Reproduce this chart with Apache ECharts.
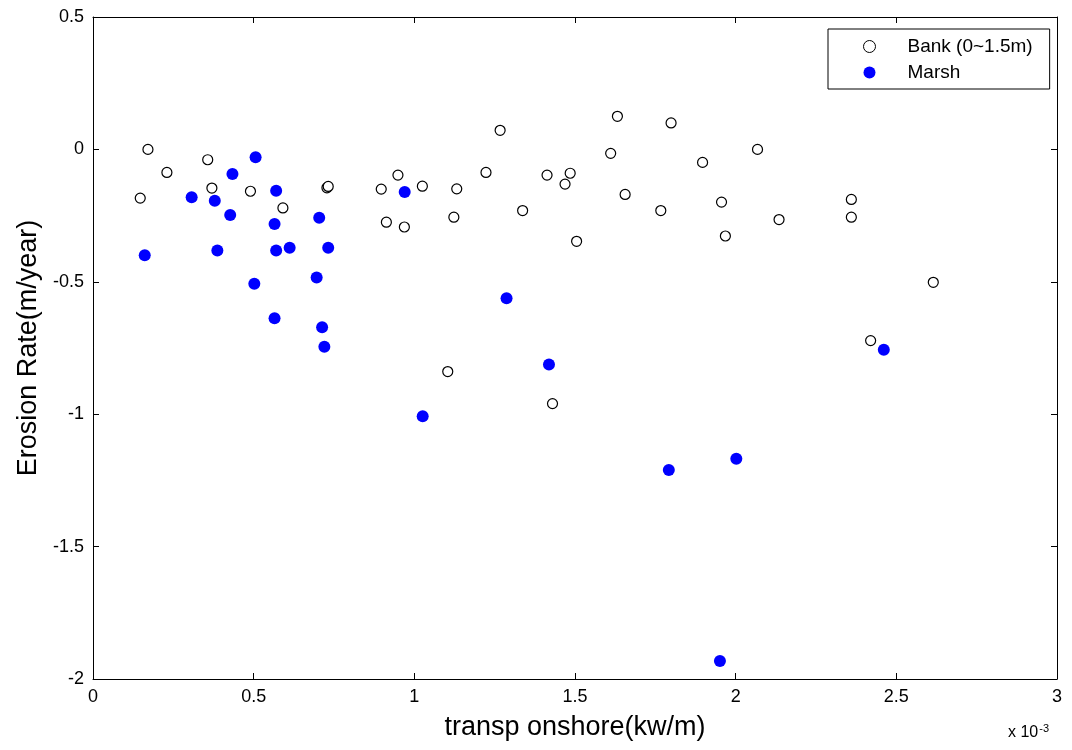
<!DOCTYPE html>
<html>
<head>
<meta charset="utf-8">
<script src="https://cdn.jsdelivr.net/npm/echarts@6/dist/echarts.min.js"></script>
<style>html,body{margin:0;padding:0;background:#fff}#c{width:1072px;height:750px}</style>
</head>
<body>
<div id="c"></div>
<script>
// x values in units of 1e-3 kw/m, y in m/year
const bankX = [0.147,0.171,0.230,0.357,0.370,0.490,0.591,0.728,0.732,0.897,0.913,0.949,0.969,1.025,
  1.104,1.123,1.132,1.223,1.267,1.337,1.413,1.430,1.469,1.485,1.505,1.611,1.632,1.656,1.767,1.799,
  1.897,1.956,1.968,2.068,2.135,2.360,2.360,2.420,2.615];
const bankY = [-0.184,0.000,-0.087,-0.039,-0.146,-0.158,-0.221,-0.145,-0.140,-0.150,-0.275,-0.097,-0.293,-0.139,
  -0.839,-0.256,-0.149,-0.087,0.072,-0.231,-0.097,-0.960,-0.131,-0.090,-0.347,-0.015,0.125,-0.170,-0.231,0.100,
  -0.049,-0.199,-0.327,0.000,-0.265,-0.189,-0.256,-0.722,-0.502];
const marshX = [0.161,0.307,0.379,0.387,0.427,0.434,0.502,0.506,0.565,0.565,0.570,0.570,0.612,0.696,
  0.704,0.713,0.720,0.732,0.970,1.026,1.287,1.419,1.792,1.951,2.002,2.461];
const marshY = [-0.400,-0.181,-0.194,-0.382,-0.248,-0.093,-0.507,-0.030,-0.282,-0.638,-0.156,-0.382,-0.371,-0.484,
  -0.258,-0.672,-0.745,-0.371,-0.161,-1.008,-0.562,-0.812,-1.211,-1.932,-1.168,-0.757];
const xTicks = [0,0.5,1,1.5,2,2.5,3];
const yTicks = [-2,-1.5,-1,-0.5,0,0.5];
const seriesNames = ['Bank (0~1.5m)','Marsh'];
const xTitle = 'transp onshore(kw/m)';
const yTitle = 'Erosion Rate(m/year)';

const font = 'Liberation Sans, Arial, Helvetica, sans-serif';
const zip = (a,b) => a.map((v,i)=>[v,b[i]]);
const chart = echarts.init(document.getElementById('c'), null, {renderer:'canvas'});
const tickStyle = {show:true, inside:true, length:6, lineStyle:{color:'#000', width:1}};
const axisLineStyle = {show:true, onZero:false, lineStyle:{color:'#000', width:1}};
chart.setOption({
  backgroundColor:'#fff',
  animation:false,
  grid:{left:93, right:15, top:17, bottom:71, containLabel:false},
  legend:{
    orient:'vertical', left:828, top:29,
    data:[
      {name:seriesNames[0], icon:'circle', itemStyle:{color:'#fff', borderColor:'#000', borderWidth:1}},
      {name:seriesNames[1], icon:'circle'}
    ],
    backgroundColor:'#fff', borderColor:'#000', borderWidth:1,
    padding:[8,17,7,35], itemGap:7, itemWidth:12, itemHeight:12,
    textStyle:{fontFamily:font, fontSize:19, color:'#000', padding:[0,0,0,27]}
  },
  xAxis:[{
    type:'value', min:0, max:3, interval:0.5, position:'bottom',
    name:xTitle, nameLocation:'middle', nameGap:35,
    nameTextStyle:{fontFamily:font, fontSize:27, color:'#000'},
    axisLine:axisLineStyle, axisTick:tickStyle, splitLine:{show:false},
    axisLabel:{color:'#000', fontFamily:font, fontSize:18, margin:9,
      formatter:v=>String(xTicks.find(t=>Math.abs(t-v)<1e-9) ?? v)}
  },{
    type:'value', min:0, max:3, interval:0.5, position:'top',
    axisLine:axisLineStyle, axisTick:tickStyle, axisLabel:{show:false}, splitLine:{show:false}
  }],
  yAxis:[{
    type:'value', min:-2, max:0.5, interval:0.5, position:'left',
    name:yTitle, nameLocation:'middle', nameGap:50,
    nameTextStyle:{fontFamily:font, fontSize:27, color:'#000'},
    axisLine:axisLineStyle, axisTick:tickStyle, splitLine:{show:false},
    axisLabel:{color:'#000', fontFamily:font, fontSize:18, margin:9,
      formatter:v=>String(yTicks.find(t=>Math.abs(t-v)<1e-9) ?? v)}
  },{
    type:'value', min:-2, max:0.5, interval:0.5, position:'right',
    axisLine:axisLineStyle, axisTick:tickStyle, axisLabel:{show:false}, splitLine:{show:false}
  }],
  graphic:[{
    type:'text', left:1008, top:723,
    style:{text:'x 10{s|-3}', rich:{s:{fontSize:11, verticalAlign:'top', padding:[0,0,8,1], fontFamily:font, fill:'#000'}},
      font:'16px '+font, fill:'#000'}
  }],
  series:[{
    name:seriesNames[0], type:'scatter', xAxisIndex:0, yAxisIndex:0,
    data:zip(bankX,bankY), symbol:'circle', symbolSize:10,
    itemStyle:{color:'#fff', borderColor:'#000', borderWidth:1.2, opacity:1},
    emphasis:{disabled:true}, z:3
  },{
    name:seriesNames[1], type:'scatter', xAxisIndex:0, yAxisIndex:0,
    data:zip(marshX,marshY), symbol:'circle', symbolSize:12,
    itemStyle:{color:'#0000ff', opacity:1},
    emphasis:{disabled:true}, z:4
  }]
});
</script>
</body>
</html>
